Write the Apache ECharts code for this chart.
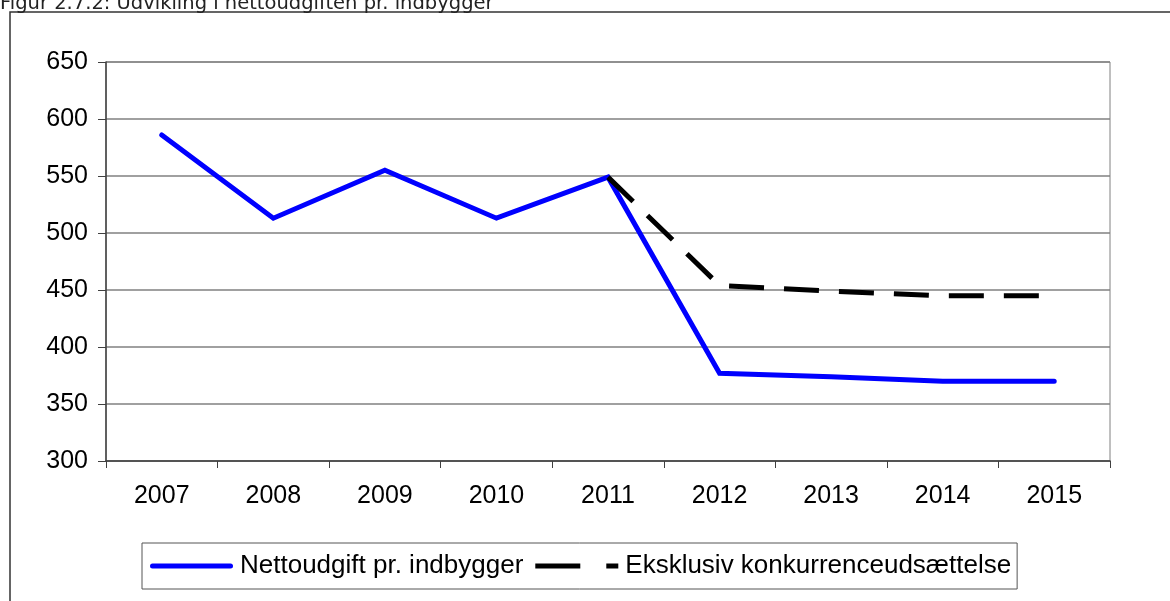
<!DOCTYPE html>
<html>
<head>
<meta charset="utf-8">
<script src="https://cdn.jsdelivr.net/npm/echarts@6/dist/echarts.min.js"></script>
<style>
  html, body { margin: 0; padding: 0; background: #ffffff; }
  #chart { width: 1170px; height: 601px; }
</style>
</head>
<body>
<div id="chart"></div>
<script>
// Years on the category axis
const years = ['2007', '2008', '2009', '2010', '2011', '2012', '2013', '2014', '2015'];

// Net expenditure per inhabitant (kr.)
const nettoudgift = [586, 513, 555, 513, 549, 377, 374, 370, 370];

// Excluding competitive tendering (starts in 2011)
const eksklusiv = [null, null, null, null, 549, 454, 449, 445, 445];

// Value axis ticks
const yMin = 300;
const yMax = 650;
const yStep = 50;

const seriesNames = ['Nettoudgift pr. indbygger', 'Eksklusiv konkurrenceudsættelse'];
const figureTitle = 'Figur 2.7.2: Udvikling i nettoudgiften pr. indbygger';

const labelFont = {
  fontFamily: 'Liberation Sans, Arial, sans-serif',
  fontSize: 25,
  color: '#000000'
};

// Legend keys: a solid rounded stroke and a long + short dash
const solidKey = 'path://M2.5,0 L80.5,0 A2.5,2.5 0 0 1 80.5,5 L2.5,5 A2.5,2.5 0 0 1 2.5,0 Z';
const dashedKey = 'path://M0,0 L45,0 L45,5 L0,5 Z M71,0 L83,0 L83,5 L71,5 Z';

const chart = echarts.init(document.getElementById('chart'), null, { renderer: 'canvas' });

chart.setOption({
  backgroundColor: '#ffffff',
  animation: false,
  graphic: [
    {
      type: 'rect',
      shape: { x: 10, y: 12, width: 1170, height: 600 },
      style: { fill: 'none', stroke: '#333333', lineWidth: 1.5 },
      silent: true,
      z: 0
    },
    {
      type: 'text',
      x: 0,
      y: 14,
      style: {
        text: figureTitle,
        fontFamily: 'DejaVu Sans, Verdana, sans-serif',
        fontSize: 19.5,
        fill: '#222222',
        verticalAlign: 'bottom',
        align: 'left'
      },
      silent: true,
      z: 1
    }
  ],
  grid: {
    left: 106,
    right: 60,
    top: 62,
    bottom: 140,
    show: true,
    borderColor: '#808080',
    borderWidth: 1,
    backgroundColor: 'transparent'
  },
  legend: {
    left: 142,
    top: 543,
    orient: 'horizontal',
    padding: [10, 6, 10, 8],
    itemGap: 12,
    itemWidth: 83,
    itemHeight: 5,
    borderColor: '#555555',
    borderWidth: 1,
    textStyle: Object.assign({}, labelFont, { fontSize: 26, padding: [0, 0, 0, 2] }),
    data: [
      { name: seriesNames[0], icon: solidKey, itemStyle: { color: '#0000ff' } },
      { name: seriesNames[1], icon: dashedKey, itemStyle: { color: '#000000' } }
    ]
  },
  xAxis: {
    type: 'category',
    data: years,
    boundaryGap: true,
    axisLine: { show: true, lineStyle: { color: '#404040', width: 1.5 } },
    axisTick: { show: true, length: 7, inside: false, alignWithLabel: false, lineStyle: { color: '#404040', width: 1 } },
    axisLabel: Object.assign({ margin: 23 }, labelFont),
    splitLine: { show: false }
  },
  yAxis: {
    type: 'value',
    min: yMin,
    max: yMax,
    interval: yStep,
    axisLine: { show: true, lineStyle: { color: '#404040', width: 1.5 } },
    axisTick: { show: true, length: 8, inside: false, lineStyle: { color: '#404040', width: 1 } },
    axisLabel: Object.assign({ margin: 18 }, labelFont),
    splitLine: { show: true, lineStyle: { color: '#808080', width: 1.5 } }
  },
  series: [
    {
      name: seriesNames[0],
      type: 'line',
      data: nettoudgift,
      symbol: 'none',
      color: '#0000ff',
      lineStyle: { color: '#0000ff', width: 5, cap: 'round', join: 'miter' },
      z: 3
    },
    {
      name: seriesNames[1],
      type: 'line',
      data: eksklusiv,
      symbol: 'none',
      connectNulls: false,
      color: '#000000',
      lineStyle: { color: '#000000', width: 5, type: [35, 20], cap: 'butt' },
      z: 4
    }
  ]
});
</script>
</body>
</html>
